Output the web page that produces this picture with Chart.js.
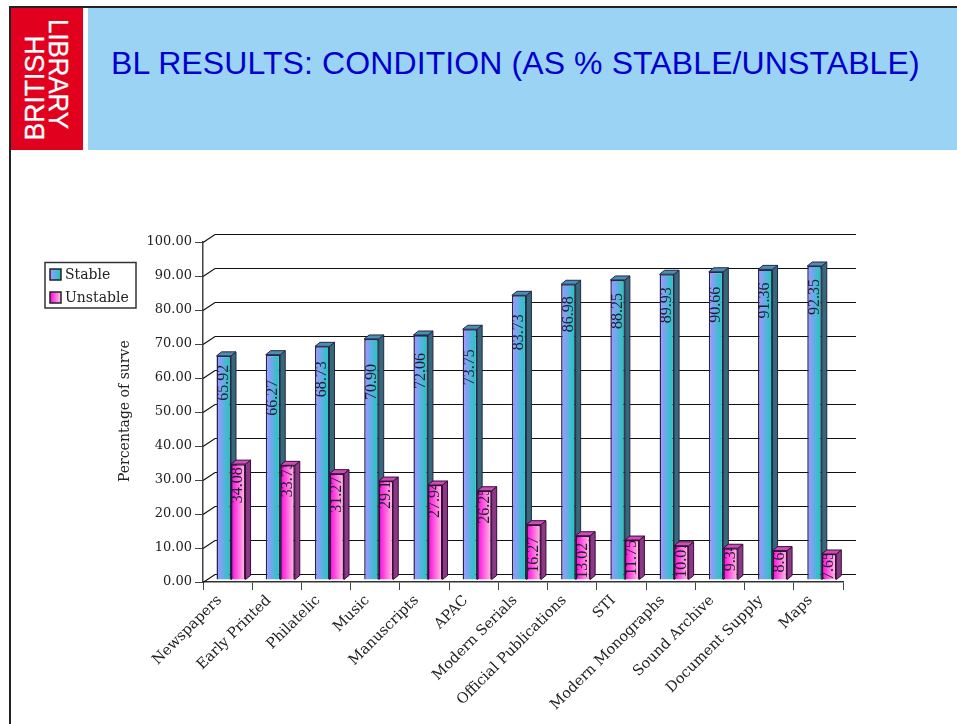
<!DOCTYPE html>
<html>
<head>
<meta charset="utf-8">
<title>BL results</title>
<script src="https://cdn.jsdelivr.net/npm/chart.js@4"></script>
<style>
body { margin: 0; background: #fff; width: 957px; height: 724px; overflow: hidden; position: relative; }
#frame { position: absolute; left: 9px; top: 6px; width: 948px; height: 718px; border-left: 2px solid #222; border-top: 2px solid #222; box-sizing: border-box; }
#logo { position: absolute; left: 11px; top: 8px; width: 72px; height: 142px; background: #e2001f; overflow: hidden; }
#logo span { position: absolute; color: #fff; font: 27px "Liberation Sans"; -webkit-text-stroke: .3px #fff; white-space: nowrap; line-height: 28px; }
#brit { left: 24px; top: 80px; transform: translate(-50%, -50%) rotate(-90deg) scaleX(.985); }
#lib { left: 47px; top: 65.5px; transform: translate(-50%, -50%) rotate(90deg) scaleX(.955); }
#band { position: absolute; left: 88px; top: 8px; width: 869px; height: 142px; background: #9bd3f5; }
#band h1 { margin: 0; position: absolute; left: 23px; top: 37px; font: 32px "Liberation Sans"; letter-spacing: .1px; color: #0000cc; white-space: nowrap; }
canvas { position: absolute; left: 0; top: 0; }
</style>
</head>
<body>
<div id="frame"></div>
<div id="logo"><span id="brit">BRITISH</span><span id="lib">LIBRARY</span></div>
<div id="band"><h1>BL RESULTS: CONDITION (AS % STABLE/UNSTABLE)</h1></div>
<canvas id="grafico" width="957" height="724"></canvas>
<script>
const categories = ['Newspapers', 'Early Printed', 'Philatelic', 'Music', 'Manuscripts', 'APAC', 'Modern Serials',
    'Official Publications', 'STI', 'Modern Monographs', 'Sound Archive', 'Document Supply', 'Maps'];
const stable = [65.92, 66.27, 68.73, 70.90, 72.06, 73.75, 83.73, 86.98, 88.25, 89.93, 90.66, 91.36, 92.35];
const unstable = [34.08, 33.73, 31.27, 29.10, 27.94, 26.25, 16.27, 13.02, 11.75, 10.07, 9.34, 8.64, 7.65];
const yTicks = [0, 10, 20, 30, 40, 50, 60, 70, 80, 90, 100];

// how far the value text starts below the top of its bar, in px
const stableDrop = [9, 25, 15, 25, 18, 20, 19, 12, 13, 13, 15, 13, 13];
const unstableDrop = [3, -4, 3, -8, -3, -3, 12, 7, 0, -4, -5, -6, -2];

const serif = 'DejaVu Serif';
const barShift = { x: 3.4, y: -2 };
const depth = { x: 5, y: 4 };
const wall = { x: 12, y: 8, right: 856 };
const barShare = 0.59;

const styles = [
    { from: '#949aff', to: '#1fc8bf', side: '#35697a', top: '#4a8fb0', line: '#26264a', drop: stableDrop },
    { from: '#ff1fe0', to: '#ffb4e2', side: '#8a3a85', top: '#cc4cb8', line: '#3a0a3a', drop: unstableDrop },
];

function fillGradient(ctx, left, right, st) {
    const g = ctx.createLinearGradient(left, 0, right, 0);
    g.addColorStop(0.15, st.from);
    g.addColorStop(0.9, st.to);
    return g;
}

function barGradient(context) {
    const chart = context.chart;
    const st = styles[context.datasetIndex];
    const xs = chart.scales.x;
    if (!xs || context.dataIndex === undefined) return st.from;
    const center = xs.getPixelForValue(context.dataIndex);
    if (!Number.isFinite(center)) return st.from;
    const w = (xs.width / categories.length) * barShare / 2;
    const left = center - (context.datasetIndex === 0 ? w : 0);
    return fillGradient(chart.ctx, left, left + w, st);
}

const chart3d = {
    id: 'chart3d',
    beforeDatasetsDraw(chart) {
        const ctx = chart.ctx;
        const y = chart.scales.y;
        const x = chart.scales.x;
        // back wall lines
        ctx.save();
        ctx.strokeStyle = '#111';
        ctx.lineWidth = 1.2;
        yTicks.forEach(v => {
            const py = Math.round(y.getPixelForValue(v)) + 0.5;
            ctx.beginPath();
            ctx.moveTo(x.left, py);
            ctx.lineTo(x.left + wall.x, py - wall.y);
            ctx.lineTo(wall.right, py - wall.y);
            ctx.stroke();
        });
        // sides and tops of the bars
        ctx.lineWidth = 1;
        ctx.translate(barShift.x, barShift.y);
        chart.data.datasets.forEach((ds, i) => {
            const st = styles[i];
            chart.getDatasetMeta(i).data.forEach(bar => {
                const l = bar.x - bar.width / 2;
                const r = bar.x + bar.width / 2;
                ctx.strokeStyle = st.line;
                ctx.fillStyle = st.side;
                ctx.beginPath();
                ctx.moveTo(r, bar.y);
                ctx.lineTo(r + depth.x, bar.y - depth.y);
                ctx.lineTo(r + depth.x, bar.base - depth.y);
                ctx.lineTo(r, bar.base);
                ctx.closePath();
                ctx.fill();
                ctx.stroke();
                ctx.fillStyle = st.top;
                ctx.beginPath();
                ctx.moveTo(l, bar.y);
                ctx.lineTo(l + depth.x, bar.y - depth.y);
                ctx.lineTo(r + depth.x, bar.y - depth.y);
                ctx.lineTo(r, bar.y);
                ctx.closePath();
                ctx.fill();
                ctx.stroke();
            });
        });
        ctx.restore();
    },
    beforeDatasetDraw(chart) {
        chart.ctx.save();
        chart.ctx.translate(barShift.x, barShift.y);
    },
    afterDatasetDraw(chart) {
        chart.ctx.restore();
    },
    afterDatasetsDraw(chart) {
        const ctx = chart.ctx;
        chart.data.datasets.forEach((ds, i) => {
            chart.getDatasetMeta(i).data.forEach((bar, j) => {
                const l = bar.x - bar.width / 2 + barShift.x;
                const top = bar.y + barShift.y;
                ctx.save();
                // the text is cut off where the bar front ends
                ctx.beginPath();
                ctx.rect(l, top, bar.width, bar.base - bar.y);
                ctx.clip();
                ctx.translate(bar.x + barShift.x, top + styles[i].drop[j]);
                ctx.rotate(-Math.PI / 2);
                ctx.font = '16px "Liberation Serif"';
                ctx.fillStyle = '#1c1c2c';
                ctx.textAlign = 'right';
                ctx.textBaseline = 'middle';
                ctx.fillText(ds.data[j].toFixed(2), 0, 0);
                ctx.restore();
            });
        });
    },
    afterDraw(chart) {
        const ctx = chart.ctx;
        // axis title, cut off at its box like in the original slide
        ctx.save();
        ctx.beginPath();
        ctx.rect(110, 341, 30, 160);
        ctx.clip();
        ctx.translate(125, 482);
        ctx.rotate(-Math.PI / 2);
        ctx.font = '14px "' + serif + '"';
        ctx.fillStyle = '#222';
        ctx.textAlign = 'left';
        ctx.textBaseline = 'middle';
        ctx.fillText('Percentage of survey', 0, 0);
        ctx.restore();

        // legend
        ctx.save();
        ctx.strokeStyle = '#333';
        ctx.lineWidth = 1.5;
        ctx.strokeRect(45, 262.5, 91, 45.5);
        chart.data.datasets.forEach((ds, i) => {
            const sy = 269 + i * 23;
            ctx.fillStyle = fillGradient(ctx, 50, 61, styles[i]);
            ctx.fillRect(50, sy, 11, 11);
            ctx.strokeStyle = '#222';
            ctx.strokeRect(50, sy, 11, 11);
            ctx.fillStyle = '#222';
            ctx.font = '14px "' + serif + '"';
            ctx.textBaseline = 'middle';
            ctx.fillText(ds.label, 65, sy + 6);
        });
        ctx.restore();
    }
};

new Chart(document.getElementById('grafico').getContext('2d'), {
    type: 'bar',
    data: {
        labels: categories,
        datasets: [
            { label: 'Stable', data: stable, backgroundColor: barGradient, borderColor: styles[0].line, borderWidth: 1.5 },
            { label: 'Unstable', data: unstable, backgroundColor: barGradient, borderColor: styles[1].line, borderWidth: 1.5 },
        ],
    },
    plugins: [chart3d],
    options: {
        responsive: false,
        animation: false,
        barPercentage: 1,
        categoryPercentage: barShare,
        layout: { padding: { left: 0, top: 242, right: 114, bottom: 0 } },
        plugins: { legend: { display: false }, tooltip: { enabled: false } },
        scales: {
            x: {
                afterFit(s) { s.height = 142; },
                grid: { drawOnChartArea: false, color: '#444', tickLength: 8 },
                border: { color: '#333', width: 1.5 },
                ticks: {
                    font: { family: serif, size: 14.5 },
                    color: '#222',
                    minRotation: 45,
                    maxRotation: 45,
                    autoSkip: false,
                    labelOffset: -8,
                    padding: 2,
                },
            },
            y: {
                min: 0,
                max: 100,
                afterFit(s) { s.width = 203; },
                afterBuildTicks(s) { s.ticks = yTicks.map(v => ({ value: v })); },
                grid: { drawOnChartArea: false, color: '#444', tickLength: 8 },
                border: { color: '#444', width: 1.5 },
                ticks: {
                    font: { family: serif, size: 13 },
                    color: '#222',
                    padding: 3,
                    callback: v => v.toFixed(2),
                },
            },
        },
    },
});
</script>
</body>
</html>
